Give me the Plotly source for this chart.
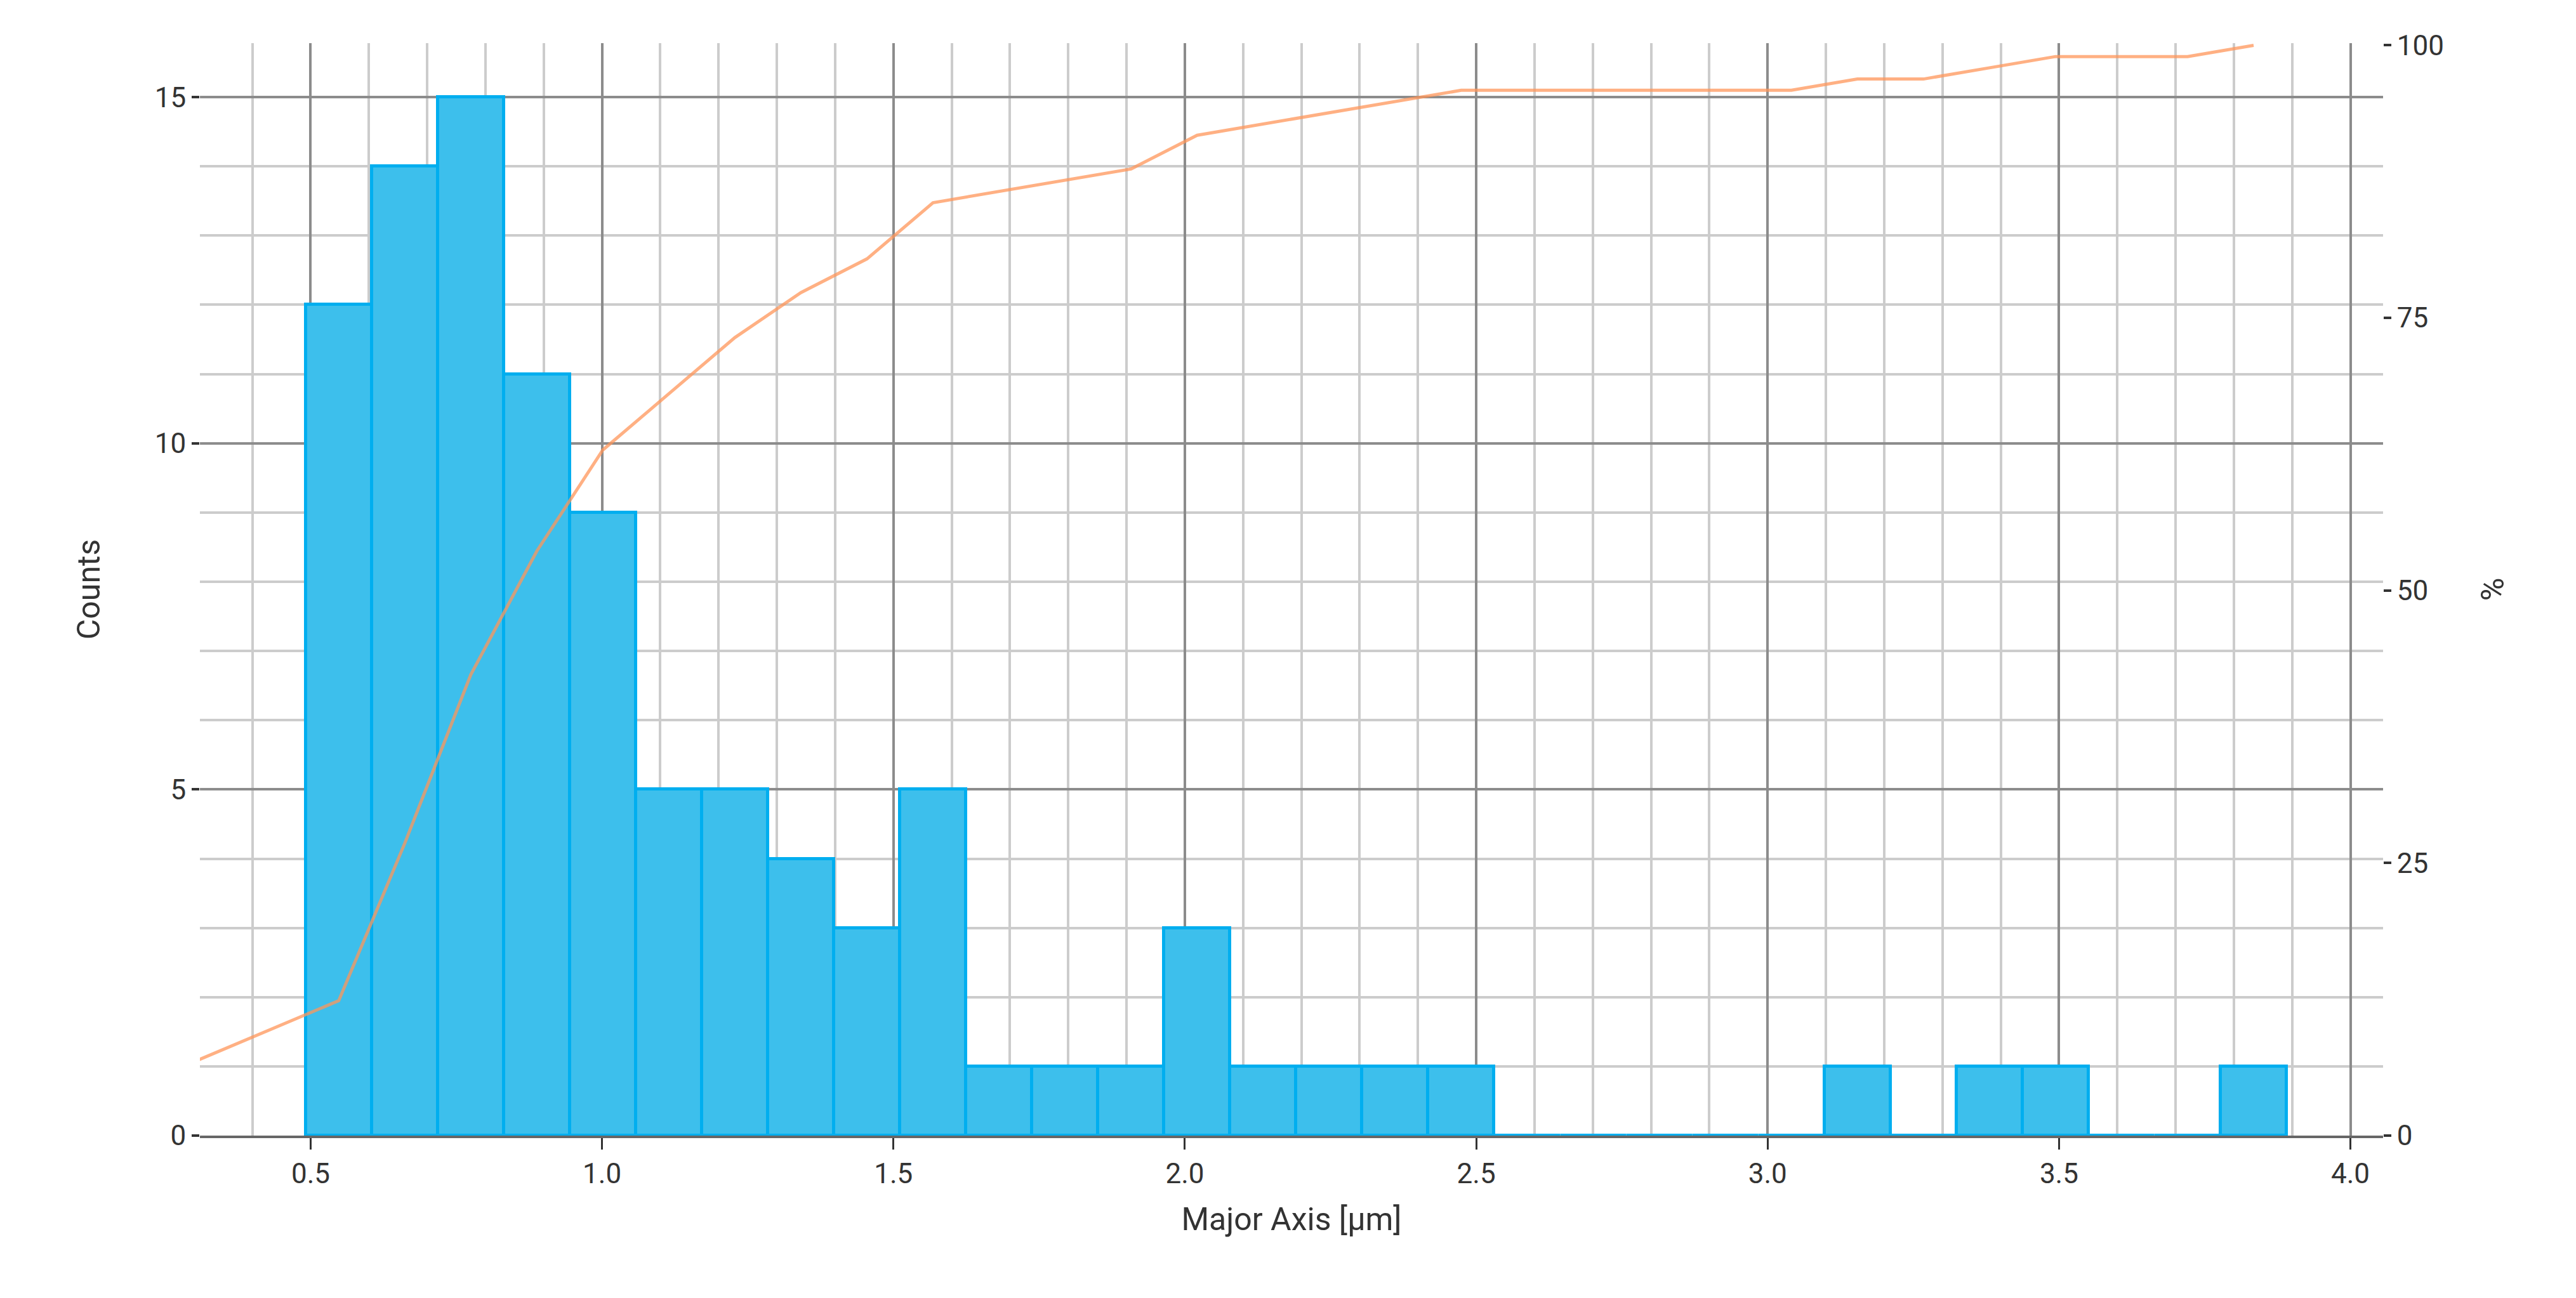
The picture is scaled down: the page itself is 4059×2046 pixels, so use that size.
import plotly.graph_objects as go
import numpy as np

bin_start = 0.4915
bin_width = 0.1133
counts = [12,14,15,11,9,5,5,4,3,5,1,1,1,3,1,1,1,1,0,0,0,0,0,1,0,1,1,0,0,1]

centers = [bin_start + bin_width*(i+0.5) for i in range(len(counts))]
total = sum(counts)
cum = list(np.cumsum(counts)/total*100)
line_x = [0.0] + centers
line_y = [0.0] + cum

fig = go.Figure()
fig.add_trace(go.Bar(x=centers, y=counts, width=bin_width,
                     marker=dict(color="#3DBFEC", line=dict(color="#00AEEF", width=5)),
                     showlegend=False))
fig.add_trace(go.Scatter(x=line_x, y=line_y, yaxis="y2", mode="lines",
                         line=dict(color="rgba(255,150,90,0.75)", width=5), showlegend=False))

font = dict(family="Roboto", size=44, color="#333333")
fig.update_layout(
    width=4059, height=2046, plot_bgcolor="white", paper_bgcolor="white",
    margin=dict(l=307, r=4059-3747, t=60, b=2046-1782),
    font=font, bargap=0,
    xaxis=dict(range=[0.31, 4.056], dtick=0.5, tick0=0, tickformat=".1f",
               showgrid=True, gridcolor="#8c8c8c", gridwidth=4,
               minor=dict(dtick=0.1, tick0=0, showgrid=True, gridcolor="#cccccc", gridwidth=4),
               ticks="outside", ticklen=18, tickwidth=3, tickcolor="#333",
               showline=True, linecolor="#666666", linewidth=4, zeroline=False,
               title=dict(text="Major Axis [µm]", font=dict(size=50), standoff=30)),
    yaxis=dict(range=[0, 15.78], dtick=5, showgrid=True, gridcolor="#8c8c8c", gridwidth=4,
               minor=dict(dtick=1, showgrid=True, gridcolor="#cccccc", gridwidth=4),
               ticks="outside", ticklen=12, tickwidth=4, tickcolor="#333",
               zeroline=False, showline=False,
               title=dict(text="Counts", font=dict(size=50), standoff=70)),
    yaxis2=dict(range=[0, 100.2], overlaying="y", side="right", tickvals=[0,25,50,75,100],
                showgrid=False, zeroline=False, ticks="outside", ticklen=12, tickwidth=4,
                tickcolor="#333", title=dict(text="%", font=dict(size=50), standoff=60)),
)
fig.write_html("out.html")
